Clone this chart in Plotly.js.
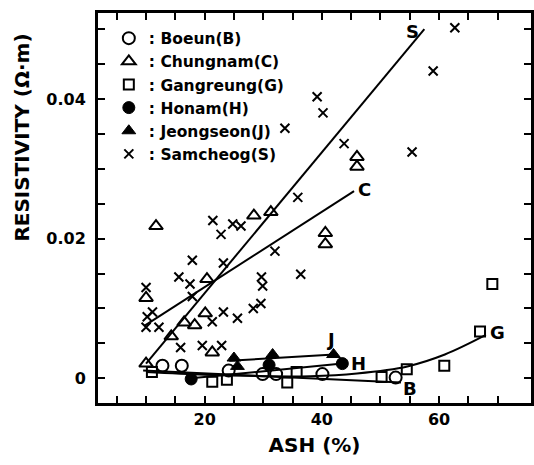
<!DOCTYPE html>
<html>
<head>
<meta charset="utf-8">
<script src="https://cdn.plot.ly/plotly-3.0.1.min.js"></script>
<style>html,body{margin:0;padding:0;background:#fff;}#chart{width:534px;height:465px;}</style>
</head>
<body>
<div id="chart"></div>
<script>
// ---- data ----
var boeunX = [12.8, 16.1, 24.1, 29.9, 32.2, 40.1, 52.6];
var boeunY = [0.0018, 0.0018, 0.0011, 0.0006, 0.0006, 0.0006, 0.0001];

var chungnamX = [11.7, 28.4, 31.3, 40.6, 40.6, 46.0, 46.0, 20.4, 10.0, 20.1, 16.5, 18.3, 14.3, 21.3, 10.0];
var chungnamY = [0.0218, 0.0233, 0.0238, 0.0208, 0.0192, 0.0317, 0.0303, 0.0142, 0.0115, 0.0093, 0.0080, 0.0076, 0.0060, 0.0037, 0.0021];

var gangreungX = [11.0, 21.3, 23.8, 34.1, 35.7, 50.2, 54.5, 60.9, 67.0, 69.1];
var gangreungY = [0.0009, -0.0005, -0.0002, -0.0006, 0.0009, 0.0002, 0.0013, 0.0018, 0.0067, 0.0135];

var honamX = [17.7, 31.0, 43.5];
var honamY = [-0.0001, 0.0019, 0.0021];

var jeongseonX = [25.0, 25.6, 31.6, 42.0];
var jeongseonY = [0.0029, 0.0017, 0.0034, 0.0034];

var samcheogX = [62.7, 59.0, 39.2, 40.2, 43.8, 55.4, 33.7, 35.9, 32.0, 29.7, 29.9, 36.4, 29.6, 28.3,
                 21.4, 22.8, 24.8, 26.2, 17.9, 23.2, 15.6, 17.5, 10.0, 17.9, 11.1, 10.2, 10.0, 12.2,
                 23.2, 21.3, 25.6, 15.9, 19.6, 22.9];
var samcheogY = [0.0502, 0.0440, 0.0403, 0.0380, 0.0336, 0.0324, 0.0358, 0.0259, 0.0182, 0.0145, 0.0132, 0.0149, 0.0107, 0.0100,
                 0.0226, 0.0206, 0.0221, 0.0218, 0.0169, 0.0165, 0.0145, 0.0135, 0.0130, 0.0117, 0.0095, 0.0088, 0.0073, 0.0073,
                 0.0095, 0.0081, 0.0086, 0.0044, 0.0047, 0.0047];

// fitted lines / curves as drawn in the reference
var sLineX = [10.0, 57.5], sLineY = [0.0021, 0.0500];
var cLineX = [9.7, 45.5],  cLineY = [0.0075, 0.0268];
var jLineX = [24.2, 42.1], jLineY = [0.0025, 0.0034];
var hLineX = [17.7, 43.5], hLineY = [0.0000, 0.0021];
var bLineX = [9.5, 53.5],  bLineY = [0.0011, -0.0006];
var gCurveX = [10, 20, 30, 38, 46, 54.6, 61, 68];
var gCurveY = [0.0009, 0.0005, 0.0003, 0.0003, 0.0007, 0.0017, 0.0034, 0.0062];

var curveLabels = ['S', 'C', 'J', 'H', 'G', 'B'];

var xTickVals = [5,10,15,20,25,30,35,40,45,50,55,60,65,70];
var xTickText = ['','','','20','','','','40','','','','60','',''];
var yTickVals = [0,0.005,0.01,0.015,0.02,0.025,0.03,0.035,0.04,0.045,0.05];
var yTickText = ['0','','','','0.02','','','','0.04','',''];

// ---- drawing ----
var FONT = 'DejaVu Sans, Liberation Sans, sans-serif';
function pts(x, y, name, symbol, size, lw) {
  return {x: x, y: y, name: name, type: 'scatter', mode: 'markers', cliponaxis: false,
    marker: {symbol: symbol, size: size, color: '#000', line: {color: '#000', width: lw}}};
}
function ln(x, y, shape) {
  return {x: x, y: y, type: 'scatter', mode: 'lines', showlegend: false, hoverinfo: 'skip',
    line: {color: '#000', width: 2, shape: shape || 'linear'}};
}
var data = [
  pts(boeunX, boeunY, ': Boeun(B)', 'circle-open', 12, 2),
  pts(chungnamX, chungnamY, ': Chungnam(C)', 'triangle-up-open', 12, 2),
  pts(gangreungX, gangreungY, ': Gangreung(G)', 'square-open', 10, 2),
  pts(honamX, honamY, ': Honam(H)', 'circle', 12, 1),
  pts(jeongseonX, jeongseonY, ': Jeongseon(J)', 'triangle-up', 12, 1),
  pts(samcheogX, samcheogY, ': Samcheog(S)', 'x-thin-open', 9, 2),
  ln(sLineX, sLineY), ln(cLineX, cLineY), ln(jLineX, jLineY),
  ln(hLineX, hLineY), ln(bLineX, bLineY), ln(gCurveX, gCurveY, 'spline')
];

var labelPos = [[55.5, 0.0496], [47.3, 0.0270], [41.4, 0.0055], [46.2, 0.0021], [70.0, 0.0065], [55.0, -0.0014]];
var annotations = curveLabels.map(function (t, i) {
  return {x: labelPos[i][0], y: labelPos[i][1], xref: 'x', yref: 'y', text: t, showarrow: false,
    font: {family: FONT, size: 18, color: '#000', weight: 'bold'}};
});
annotations.push({xref: 'paper', yref: 'paper', x: -0.176, y: 0.68, xanchor: 'center', yanchor: 'middle',
  text: 'RESISTIVITY (Ω·m)', textangle: -90, showarrow: false,
  font: {family: FONT, size: 20, color: '#000', weight: 'bold'}});

var axisCommon = {showline: true, linewidth: 3, linecolor: '#000', mirror: 'ticks', ticks: 'inside',
  ticklen: 7, tickwidth: 2, tickcolor: '#000', showgrid: false, zeroline: false,
  tickfont: {family: FONT, size: 16, color: '#000', weight: 'bold'}};

var layout = {
  width: 534, height: 465,
  margin: {l: 98, r: 3, t: 13, b: 62},
  paper_bgcolor: '#fff', plot_bgcolor: '#fff',
  showlegend: true,
  legend: {x: 0.025, y: 0.978, xanchor: 'left', yanchor: 'top', bgcolor: 'rgba(0,0,0,0)',
    font: {family: FONT, size: 15.5, color: '#000', weight: 'bold'}, tracegroupgap: 0},
  xaxis: Object.assign({}, axisCommon, {range: [1.8, 75.7], tickmode: 'array', tickvals: xTickVals, ticktext: xTickText,
    title: {text: 'ASH (%)', font: {family: FONT, size: 20, color: '#000', weight: 'bold'}, standoff: 10}}),
  yaxis: Object.assign({}, axisCommon, {range: [-0.00354, 0.0523], tickmode: 'array', tickvals: yTickVals, ticktext: yTickText,
    ticklabelstandoff: 6}),
  annotations: annotations
};
Plotly.newPlot('chart', data, layout, {displayModeBar: false, staticPlot: true});
</script>
</body>
</html>
